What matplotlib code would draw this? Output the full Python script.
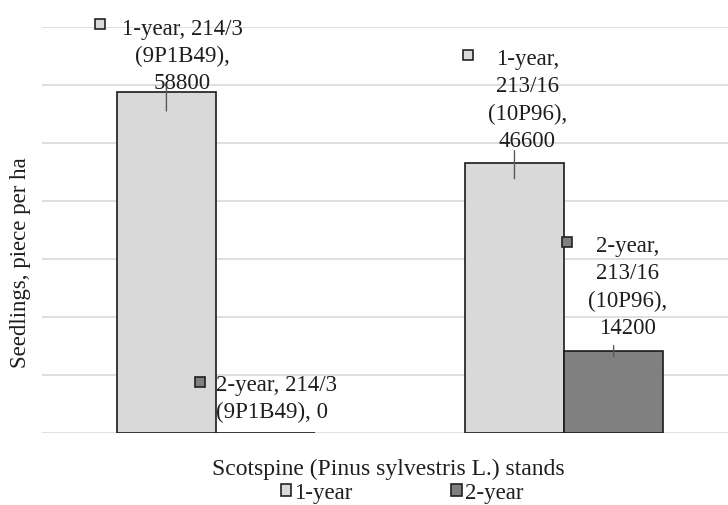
import matplotlib.pyplot as plt
from matplotlib.patches import Patch
from matplotlib.transforms import offset_copy

plt.rcParams['font.family'] = ['Liberation Serif', 'DejaVu Serif']

# data
stands = ['214/3 (9P1B49)', '213/16 (10P96)']
series = ['1-year', '2-year']
one_year = [58800, 46600]
two_year = [0, 14200]
colors = ['#d9d9d9', '#808080']

labels_1 = ['1-year, 214/3\n(9P1B49),\n58800', '1-year,\n213/16\n(10P96),\n46600']
labels_2 = ['2-year, 214/3\n(9P1B49), 0', '2-year,\n213/16\n(10P96),\n14200']

FS = 16.5
fig = plt.figure(figsize=(7.28, 5.06), dpi=100)
ax = fig.add_axes([42 / 728, 72 / 506, 686 / 728, 406 / 506])

w = 0.285
x = list(range(len(stands)))
x1 = [i - w / 2 for i in x]
x2 = [i + w / 2 for i in x]
ax.bar(x1, one_year, w, color=colors[0], edgecolor='#1a1a1a', linewidth=1.2, zorder=3)
ax.bar(x2, two_year, w, color=colors[1], edgecolor='#1a1a1a', linewidth=1.2, zorder=3)

ax.set_ylim(0, 70000)
ax.set_xlim(-0.5, 1.471)
ax.set_yticks(range(0, 70001, 10000))
ax.yaxis.grid(True, color='#d9d9d9', linewidth=1.2)
ax.set_axisbelow(True)
ax.tick_params(length=0, labelleft=False, labelbottom=False)
for s in ax.spines.values():
    s.set_visible(False)


def off(dx, dy):
    return offset_copy(ax.transData, fig=fig, x=dx, y=dy, units='dots')


def data_label(xc, v, text, ha, tdx, tdy, mdx, mdy, color, lead=None):
    ax.text(xc, v, text, transform=off(tdx, tdy), ha=ha, va='baseline',
            multialignment='center' if ha == 'center' else 'left',
            fontsize=FS, linespacing=1.38, color='#1e1e1e', zorder=5)
    ax.plot([xc], [v], marker='s', markersize=7.5, markerfacecolor=color,
            markeredgecolor='#222222', markeredgewidth=1.2,
            transform=off(mdx, mdy), zorder=5, clip_on=False)
    if lead:
        ax.annotate('', xy=(xc, v), xycoords=off(0, lead[1]),
                    xytext=(xc, v), textcoords=off(0, lead[0]),
                    arrowprops=dict(arrowstyle='-', color='#595959', lw=1,
                                    shrinkA=0, shrinkB=0), zorder=6)


data_label(x1[0], one_year[0], labels_1[0], 'center', 16, 4, -66, 68, colors[0], (5, -19))
data_label(x1[1], one_year[1], labels_1[1], 'center', 13, 17, -46, 108, colors[0], (12, -16))
data_label(x2[0], two_year[0], labels_2[0], 'left', -50, 16, -66, 51, colors[1])
data_label(x2[1], two_year[1], labels_2[1], 'center', 14, 18, -47, 109, colors[1], (5, -6))

fig.text(21 / 728, 1 - 263 / 506, 'Seedlings, piece per ha', rotation=90,
         ha='center', va='center', fontsize=FS, color='#1e1e1e')
fig.text(388 / 728, 1 - 469 / 506, 'Scotspine (Pinus sylvestris L.) stands',
         ha='center', va='center', fontsize=17, color='#1e1e1e')

handles = [Patch(facecolor=c, edgecolor='#222222', linewidth=1.2) for c in colors]
fig.legend(handles, series, loc='center', bbox_to_anchor=(402 / 728, 1 - 494 / 506),
           ncol=2, frameon=False, fontsize=FS, handlelength=0.45, handleheight=0.45,
           handletextpad=0.15, columnspacing=4.3, borderpad=0, borderaxespad=0,
           labelcolor='#1e1e1e')

fig.savefig('out.png', dpi=100)
